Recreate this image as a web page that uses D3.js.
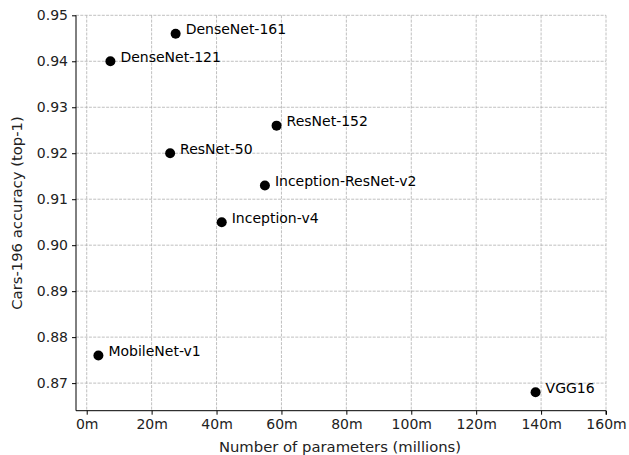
<!DOCTYPE html>
<html>
<head>
<meta charset="utf-8">
<script src="https://cdn.jsdelivr.net/npm/d3@7"></script>
<style>
  body { margin: 0; background: #fff; }
  svg { display: block; font-family: "DejaVu Sans", sans-serif; }
</style>
</head>
<body>
<svg id="chart" width="629" height="455"></svg>
<script>
// model names, params (millions) and top-1 accuracy
var models = ["DenseNet-161", "DenseNet-121", "ResNet-152", "ResNet-50", "Inception-ResNet-v2", "Inception-v4", "MobileNet-v1", "VGG16"];
var params = [27.4, 7.3, 58.5, 25.7, 54.9, 41.6, 3.6, 138.3];
var accuracy = [0.946, 0.940, 0.926, 0.920, 0.913, 0.905, 0.876, 0.868];
var xTicks = [0, 20, 40, 60, 80, 100, 120, 140, 160];
var yTicks = [0.87, 0.88, 0.89, 0.90, 0.91, 0.92, 0.93, 0.94, 0.95];

var svg = d3.select("#chart");
// plot box (window.top is reserved, so plotTop)
var plotLeft = 76, plotRight = 606, plotTop = 15.3, plotBottom = 410.7;
var fs = "14px";

var x = d3.scaleLinear().domain([-3.3, 160]).range([plotLeft, plotRight]);
var y = d3.scaleLinear().domain([0.864, 0.95]).range([plotBottom, plotTop]);

// grid
var grid = svg.append("g").attr("stroke", "#b0b0b0").attr("stroke-width", 0.8)
    .attr("stroke-dasharray", "3,1.3");
grid.selectAll(".gx").data(xTicks).enter().append("line")
    .attr("x1", d => x(d)).attr("x2", d => x(d))
    .attr("y1", plotTop).attr("y2", plotBottom);
grid.selectAll(".gy").data(yTicks).enter().append("line")
    .attr("x1", plotLeft).attr("x2", plotRight)
    .attr("y1", d => y(d)).attr("y2", d => y(d));

// axes (only left and bottom spines)
var xAxis = d3.axisBottom(x).tickValues(xTicks).tickFormat(d => d + "m").tickSize(4).tickPadding(4);
var yAxis = d3.axisLeft(y).tickValues(yTicks).tickFormat(d3.format(".2f")).tickSize(4).tickPadding(4);

var gx = svg.append("g").attr("transform", "translate(0," + plotBottom + ")").call(xAxis);
var gy = svg.append("g").attr("transform", "translate(" + plotLeft + ",0)").call(yAxis);
[gx, gy].forEach(function(g) {
    g.select(".domain").attr("stroke", "#000").attr("stroke-width", 1);
    g.selectAll(".tick line").attr("stroke", "#000").attr("stroke-width", 1);
    g.selectAll(".tick text").attr("fill", "#222").style("font-size", fs).style("font-family", "DejaVu Sans");
});
gx.select(".domain").attr("d", "M" + plotLeft + ",0H" + plotRight + "V4");
gy.select(".domain").attr("d", "M0," + plotBottom + "V" + plotTop);

// axis labels
svg.append("text").attr("x", (plotLeft + plotRight) / 2 - 1).attr("y", 452)
    .attr("text-anchor", "middle").style("font-size", "14.8px").attr("fill", "#222")
    .text("Number of parameters (millions)");
svg.append("text").attr("transform", "translate(22," + (plotTop + plotBottom) / 2 + ") rotate(-90)")
    .attr("text-anchor", "middle").style("font-size", "14.8px").attr("fill", "#222")
    .text("Cars-196 accuracy (top-1)");

// points + labels
var pts = svg.append("g");
models.forEach(function(m, i) {
    pts.append("circle").attr("cx", x(params[i])).attr("cy", y(accuracy[i]))
        .attr("r", 5).attr("fill", "#000");
    pts.append("text").attr("x", x(params[i]) + 10).attr("y", y(accuracy[i]) + 0.5)
        .style("font-size", fs).attr("fill", "#000")
        .text(m);
});
</script>
</body>
</html>
